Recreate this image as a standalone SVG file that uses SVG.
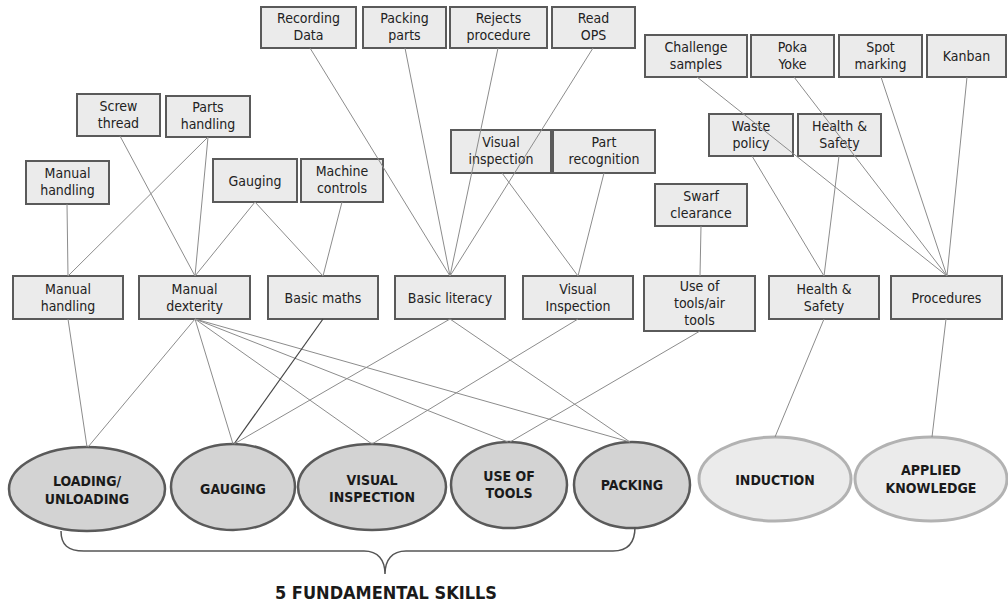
<svg xmlns="http://www.w3.org/2000/svg" width="1008" height="607" viewBox="0 0 1008 607">
<style>
.bx{fill:#ebebeb;stroke:#5a5a5a;stroke-width:2}
.t{font-family:"DejaVu Sans Condensed","DejaVu Sans",sans-serif;font-stretch:condensed;font-size:14px;fill:#222;text-anchor:middle}
.et{font-family:"DejaVu Sans Condensed","DejaVu Sans",sans-serif;font-stretch:condensed;font-weight:bold;font-size:14px;fill:#1a1a1a;text-anchor:middle}
.ed{fill:#d3d3d3;stroke:#5a5a5a;stroke-width:2.5}
.el{fill:#ebebeb;stroke:#b2b2b2;stroke-width:3}
.c line{stroke:#8c8c8c;stroke-width:1}
.brace{fill:none;stroke:#555;stroke-width:1.5}
.title{font-family:"DejaVu Sans Condensed","DejaVu Sans",sans-serif;font-stretch:condensed;font-weight:bold;font-size:18px;fill:#1a1a1a;text-anchor:middle}
</style>
<rect width="1008" height="607" fill="#fff"/>
<g id="rec"><rect class="bx" x="261" y="7" width="95" height="41"/><text class="t" x="308.5" y="23">Recording</text><text class="t" x="308.5" y="40">Data</text></g>
<g id="pack"><rect class="bx" x="363" y="7" width="83" height="41"/><text class="t" x="404.5" y="23">Packing</text><text class="t" x="404.5" y="40">parts</text></g>
<g id="rej"><rect class="bx" x="450" y="7" width="97" height="41"/><text class="t" x="498.5" y="23">Rejects</text><text class="t" x="498.5" y="40">procedure</text></g>
<g id="ops"><rect class="bx" x="552" y="7" width="83" height="41"/><text class="t" x="593.5" y="23">Read</text><text class="t" x="593.5" y="40">OPS</text></g>
<g id="chal"><rect class="bx" x="645" y="35" width="102" height="42"/><text class="t" x="696" y="52">Challenge</text><text class="t" x="696" y="69">samples</text></g>
<g id="poka"><rect class="bx" x="751" y="35" width="83" height="42"/><text class="t" x="792.5" y="52">Poka</text><text class="t" x="792.5" y="69">Yoke</text></g>
<g id="spot"><rect class="bx" x="839" y="35" width="83" height="42"/><text class="t" x="880.5" y="52">Spot</text><text class="t" x="880.5" y="69">marking</text></g>
<g id="kanban"><rect class="bx" x="927" y="35" width="79" height="42"/><text class="t" x="966.5" y="61">Kanban</text></g>
<g id="screw"><rect class="bx" x="77" y="94" width="83" height="42"/><text class="t" x="118.5" y="111">Screw</text><text class="t" x="118.5" y="128">thread</text></g>
<g id="parts"><rect class="bx" x="166" y="96" width="84" height="41"/><text class="t" x="208" y="112">Parts</text><text class="t" x="208" y="129">handling</text></g>
<g id="waste"><rect class="bx" x="709" y="114" width="84" height="42"/><text class="t" x="751" y="131">Waste</text><text class="t" x="751" y="148">policy</text></g>
<g id="hs1"><rect class="bx" x="798" y="114" width="83" height="42"/><text class="t" x="839.5" y="131">Health &amp;</text><text class="t" x="839.5" y="148">Safety</text></g>
<g id="visinsp"><rect class="bx" x="451" y="130" width="100" height="43"/><text class="t" x="501" y="147">Visual</text><text class="t" x="501" y="164">inspection</text></g>
<g id="partrec"><rect class="bx" x="553" y="130" width="102" height="43"/><text class="t" x="604" y="147">Part</text><text class="t" x="604" y="164">recognition</text></g>
<g id="mh1"><rect class="bx" x="26" y="161" width="83" height="43"/><text class="t" x="67.5" y="178">Manual</text><text class="t" x="67.5" y="195">handling</text></g>
<g id="gauging1"><rect class="bx" x="213" y="159" width="84" height="43"/><text class="t" x="255" y="186">Gauging</text></g>
<g id="mach"><rect class="bx" x="301" y="159" width="82" height="43"/><text class="t" x="342" y="176">Machine</text><text class="t" x="342" y="193">controls</text></g>
<g id="swarf"><rect class="bx" x="655" y="184" width="92" height="42"/><text class="t" x="701" y="201">Swarf</text><text class="t" x="701" y="218">clearance</text></g>
<g id="mh2"><rect class="bx" x="13" y="276" width="110" height="43"/><text class="t" x="68" y="294">Manual</text><text class="t" x="68" y="311">handling</text></g>
<g id="dex"><rect class="bx" x="139" y="276" width="111" height="43"/><text class="t" x="194.5" y="294">Manual</text><text class="t" x="194.5" y="311">dexterity</text></g>
<g id="maths"><rect class="bx" x="268" y="276" width="110" height="43"/><text class="t" x="323" y="303">Basic maths</text></g>
<g id="lit"><rect class="bx" x="395" y="276" width="110" height="43"/><text class="t" x="450" y="303">Basic literacy</text></g>
<g id="vis2"><rect class="bx" x="523" y="276" width="110" height="43"/><text class="t" x="578" y="294">Visual</text><text class="t" x="578" y="311">Inspection</text></g>
<g id="tools"><rect class="bx" x="644" y="276" width="111" height="55"/><text class="t" x="699.5" y="291">Use of</text><text class="t" x="699.5" y="308">tools/air</text><text class="t" x="699.5" y="325">tools</text></g>
<g id="hs2"><rect class="bx" x="769" y="276" width="110" height="43"/><text class="t" x="824" y="294">Health &amp;</text><text class="t" x="824" y="311">Safety</text></g>
<g id="proc"><rect class="bx" x="891" y="276" width="111" height="43"/><text class="t" x="946.5" y="303">Procedures</text></g>
<g id="e-load"><ellipse class="ed" cx="87" cy="489" rx="78" ry="42"/><text class="et" x="87" y="486">LOADING/</text><text class="et" x="87" y="504">UNLOADING</text></g>
<g id="e-gauging"><ellipse class="ed" cx="233" cy="487" rx="62" ry="43"/><text class="et" x="233" y="494">GAUGING</text></g>
<g id="e-visual"><ellipse class="ed" cx="372" cy="487" rx="74" ry="43"/><text class="et" x="372" y="485">VISUAL</text><text class="et" x="372" y="502">INSPECTION</text></g>
<g id="e-tools"><ellipse class="ed" cx="509" cy="485" rx="58" ry="43"/><text class="et" x="509" y="481">USE OF</text><text class="et" x="509" y="498">TOOLS</text></g>
<g id="e-packing"><ellipse class="ed" cx="632" cy="485" rx="58" ry="43"/><text class="et" x="632" y="490">PACKING</text></g>
<g id="e-induction"><ellipse class="el" cx="775" cy="479" rx="76" ry="42"/><text class="et" x="775" y="485">INDUCTION</text></g>
<g id="e-applied"><ellipse class="el" cx="931" cy="479" rx="76" ry="42"/><text class="et" x="931" y="475">APPLIED</text><text class="et" x="931" y="493">KNOWLEDGE</text></g>
<g id="connectors" class="c">
<line x1="67" y1="204" x2="68" y2="276"/>
<line x1="208" y1="137" x2="68" y2="276"/>
<line x1="208" y1="137" x2="195" y2="276"/>
<line x1="120" y1="136" x2="195" y2="276"/>
<line x1="255" y1="202" x2="195" y2="276"/>
<line x1="255" y1="202" x2="323" y2="276"/>
<line x1="342" y1="202" x2="323" y2="276"/>
<line x1="310" y1="48" x2="450" y2="276"/>
<line x1="405" y1="48" x2="450" y2="276"/>
<line x1="498" y1="48" x2="450" y2="276"/>
<line x1="593" y1="48" x2="450" y2="276"/>
<line x1="502" y1="173" x2="578" y2="276"/>
<line x1="604" y1="173" x2="578" y2="276"/>
<line x1="701" y1="226" x2="700" y2="276"/>
<line x1="752" y1="156" x2="824" y2="276"/>
<line x1="839" y1="156" x2="824" y2="276"/>
<line x1="697" y1="77" x2="947" y2="276"/>
<line x1="794" y1="77" x2="947" y2="276"/>
<line x1="881" y1="77" x2="947" y2="276"/>
<line x1="967" y1="77" x2="947" y2="276"/>
<line x1="68" y1="319" x2="87" y2="447"/>
<line x1="195" y1="319" x2="88" y2="447"/>
<line x1="195" y1="319" x2="233" y2="444"/>
<line x1="195" y1="319" x2="372" y2="444"/>
<line x1="195" y1="319" x2="508" y2="442"/>
<line x1="195" y1="319" x2="630" y2="442"/>
<line x1="323" y1="319" x2="234" y2="444" style="stroke:#444;stroke-width:1.2"/>
<line x1="450" y1="319" x2="234" y2="444"/>
<line x1="450" y1="319" x2="630" y2="442"/>
<line x1="578" y1="319" x2="372" y2="444"/>
<line x1="700" y1="331" x2="510" y2="442"/>
<line x1="824" y1="319" x2="775" y2="437"/>
<line x1="946" y1="319" x2="932" y2="437"/>
</g>
<g id="brace">
<path class="brace" d="M61,531 C61,545 68,551 84,551 L364,551 C378,551 385,560 385,574 C385,560 392,551 406,551 L613,551 C628,551 635,543 635,527"/>
<text class="title" x="386" y="599">5 FUNDAMENTAL SKILLS</text>
</g>
</svg>
